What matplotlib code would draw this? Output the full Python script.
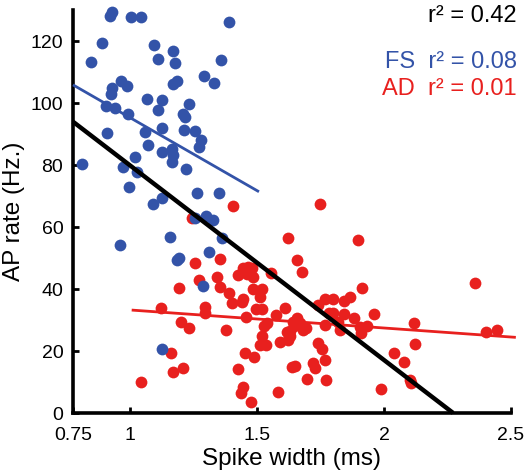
"""Spike width vs AP rate scatter, FS (blue) and AD (red) cells with linear fits."""

import matplotlib.pyplot as plt
import numpy as np

plt.rcParams["font.family"] = ["Liberation Sans", "DejaVu Sans"]

BLUE = "#3353a8"
RED = "#e8201e"

# FS cells: spike width (ms), AP rate (Hz)
fs_width = [
    0.928, 0.922, 1.004, 1.044, 1.389, 0.891, 1.095, 1.169, 0.846, 1.112,
    1.179, 1.357, 0.966, 0.990, 0.928, 0.926, 1.187, 1.171, 1.293, 1.332,
    1.066, 1.125, 0.906, 0.943, 0.991, 1.112, 1.234, 1.210, 1.217, 1.126,
    1.061, 1.214, 1.256, 0.909, 1.072, 1.165, 1.280, 1.271, 1.125, 1.171,
    1.165, 0.813, 0.974, 1.021, 1.028, 1.221, 0.996, 1.265, 1.350, 1.092,
    1.125, 1.300, 1.255, 1.328, 1.364, 1.311, 0.961, 1.158, 1.184, 1.194,
    1.289, 1.125,
]
fs_rate = [
    129.5, 128.1, 127.8, 127.6, 126.2, 119.4, 118.7, 116.9, 113.1, 114.1,
    112.9, 113.9, 107.0, 105.5, 104.8, 102.9, 107.2, 106.0, 108.7, 106.4,
    101.4, 100.9, 99.0, 98.3, 96.5, 97.7, 99.8, 96.5, 95.6, 92.0,
    90.6, 91.3, 91.1, 90.2, 86.4, 85.3, 88.1, 85.9, 84.2, 83.2,
    81.1, 80.2, 79.5, 82.7, 77.6, 78.7, 73.0, 71.1, 71.1, 67.4,
    69.4, 63.5, 62.8, 62.3, 56.6, 51.9, 54.3, 56.7, 49.4, 49.9,
    41.0, 20.6,
]

# AD cells
ad_width = [
    1.407, 1.243, 1.750, 1.621, 1.896, 1.355, 1.256, 1.657, 1.676, 1.556,
    1.270, 1.344, 1.355, 1.192, 1.391, 1.401, 1.440, 1.447, 1.427, 1.447,
    1.466, 1.480, 1.460, 1.483, 1.486, 1.519, 1.513, 1.495, 1.518, 1.915,
    2.358, 1.768, 1.798, 1.742, 1.843, 1.867, 1.611, 1.575, 1.457, 1.296,
    1.296, 1.124, 1.203, 1.232, 1.378, 1.783, 1.798, 1.843, 1.959, 1.883,
    1.657, 1.643, 1.670, 1.693, 1.683, 1.630, 1.766, 1.821, 1.825, 1.906,
    1.932, 1.909, 1.526, 1.540, 2.120, 2.402, 2.444, 1.617, 1.630, 1.591,
    1.624, 1.519, 1.512, 1.536, 1.742, 1.756, 2.124, 2.038, 2.078, 1.489,
    1.454, 1.637, 1.650, 1.722, 1.729, 1.766, 1.697, 1.770, 2.103, 2.106,
    1.584, 1.987, 1.477, 1.424, 1.447, 1.439, 1.161, 1.171, 1.208, 1.043,
    1.646,
]
ad_rate = [
    66.9, 63.0, 67.3, 56.4, 55.7, 49.8, 48.5, 49.5, 45.6, 45.2,
    42.9, 43.8, 40.7, 40.3, 38.8, 35.6, 35.9, 36.8, 44.5, 46.7,
    47.2, 46.7, 44.7, 43.8, 40.1, 39.9, 37.3, 33.5, 33.5, 40.4,
    41.8, 36.8, 36.7, 34.7, 36.1, 37.4, 33.8, 31.6, 31.1, 34.3,
    32.2, 33.9, 29.5, 27.3, 26.9, 32.2, 32.4, 32.0, 31.8, 30.5,
    30.8, 29.5, 28.9, 27.3, 26.8, 26.6, 28.4, 29.5, 26.9, 27.9,
    28.1, 25.7, 28.2, 28.9, 29.1, 26.2, 26.8, 26.1, 24.7, 23.0,
    23.5, 25.0, 21.9, 21.8, 22.5, 20.5, 22.1, 19.5, 16.4, 18.2,
    19.3, 14.9, 15.2, 16.2, 14.4, 17.2, 11.1, 10.6, 10.5, 9.6,
    6.9, 7.6, 3.5, 14.1, 8.5, 6.5, 19.5, 13.1, 14.4, 10.1,
    28.1,
]

# linear fits: (slope, intercept, x start, x end)
fit_all = (-62.8, 142.7, 0.776, 2.272)
fit_fs = (-47.1, 142.4, 0.776, 1.508)
fit_ad = (-5.82, 39.06, 1.007, 2.519)

x_ticks = [0.776, 1, 1.5, 2, 2.5]
x_tick_labels = ["0.75", "1", "1.5", "2", "2.5"]
y_ticks = [0, 20, 40, 60, 80, 100, 120]

fig = plt.figure(figsize=(5.27, 4.72), dpi=100)
ax = fig.add_axes([73 / 527, 59 / 472, 438 / 527, 403 / 472])

ax.scatter(ad_width, ad_rate, s=72, color=RED, linewidths=0, zorder=2, clip_on=False)
ax.scatter(fs_width, fs_rate, s=72, color=BLUE, linewidths=0, zorder=3, clip_on=False)

for (slope, icpt, x0, x1), col, lw in [
    (fit_fs, BLUE, 2.0),
    (fit_ad, RED, 2.0),
    (fit_all, "black", 3.2),
]:
    xs = np.array([x0, x1])
    ax.plot(xs, slope * xs + icpt, color=col, lw=lw, zorder=4, clip_on=False,
            solid_capstyle="butt")

ax.set_xlim(0.776, 2.5)
ax.set_ylim(0, 130)
ax.set_xticks(x_ticks)
ax.set_xticklabels(x_tick_labels)
ax.set_yticks(y_ticks)
ax.tick_params(direction="in", length=4, width=2, labelsize=14)
ax.tick_params(axis="x", pad=10)
ax.tick_params(axis="y", pad=7)
for side in ("top", "right"):
    ax.spines[side].set_visible(False)
for side in ("left", "bottom"):
    ax.spines[side].set_linewidth(2.6)

ax.set_xlabel("Spike width (ms)", fontsize=17.5, labelpad=3)
ax.set_ylabel("AP rate (Hz.)", fontsize=17.5, labelpad=4)

fig.text(517 / 527, 1 - 16 / 472, "r² = 0.42", color="black",
         fontsize=17, ha="right", va="center")
fig.text(517 / 527, 1 - 62 / 472, "FS  r² = 0.08", color=BLUE,
         fontsize=17, ha="right", va="center")
fig.text(517 / 527, 1 - 89 / 472, "AD  r² = 0.01", color=RED,
         fontsize=17, ha="right", va="center")

fig.savefig("out.png", dpi=100)
